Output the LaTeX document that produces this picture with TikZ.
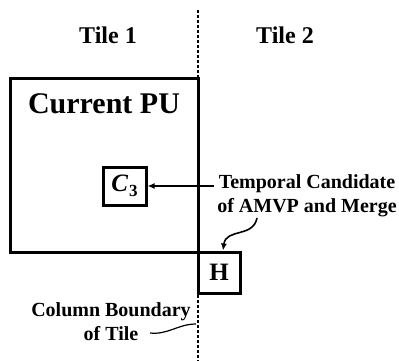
\documentclass[tikz,border=0pt]{standalone}
\usepackage{fontspec}
\setmainfont{Liberation Serif}
\usetikzlibrary{arrows.meta}

\begin{document}
\begin{tikzpicture}[x=1pt,y=-1pt,
	box/.style={shape=rectangle,draw=black,line width=3pt,inner sep=0pt},
	lbl/.style={align=center,font=\bfseries\fontsize{20}{24}\selectfont},
	tile/.style={font=\bfseries\fontsize{24}{28}\selectfont},
	boundary/.style={line width=2.8pt,dash pattern=on 2.6pt off 2.4pt},
	arr/.style={line width=1.6pt,-{Latex[length=7pt,width=6pt]}}]
	\useasboundingbox (0,0) rectangle (399,361);

	% column boundary between the tiles
	\coordinate (btop) at (198,10);
	\coordinate (bbot) at (198,361);
	\draw[boundary] (btop) -- (bbot);

	\node[tile] (t1) at (108,35) {Tile 1};
	\node[tile] (t2) at (285,35) {Tile 2};

	\node[box,minimum width=188,minimum height=173] (pu) at (104,165.5) {};
	\node[font=\bfseries\fontsize{30}{34}\selectfont] (pul) at (104,104) {Current PU};
	\node[box,minimum width=43,minimum height=38,font=\bfseries\fontsize{25}{28}\selectfont] (c3) at (124.5,186)
		{\itshape C\kern1pt\raisebox{-5pt}{\upshape\fontsize{17}{17}\selectfont 3}};
	\node[box,minimum width=42,minimum height=41,font=\bfseries\fontsize{25}{28}\selectfont] (h) at (219,272.5) {H};

	\node[lbl] (tc) at (307,196) {Temporal Candidate\\of AMVP and Merge};
	\node[lbl] (cb) at (111,322) {Column Boundary\\of Tile};

	\draw[arr] (tc.west |- c3.east) -- (c3.east);
	\coordinate (tcfoot) at (257,218);
	\draw[arr] (tcfoot) .. controls (253,238) and (226,228) .. ([xshift=4pt]h.north);
	\coordinate (wv) at (150,333);
	\coordinate (wvend) at (196,324);
	\draw[line width=1.2pt] (wv) .. controls (168,335) and (178,324) .. (wvend);
\end{tikzpicture}
\end{document}
